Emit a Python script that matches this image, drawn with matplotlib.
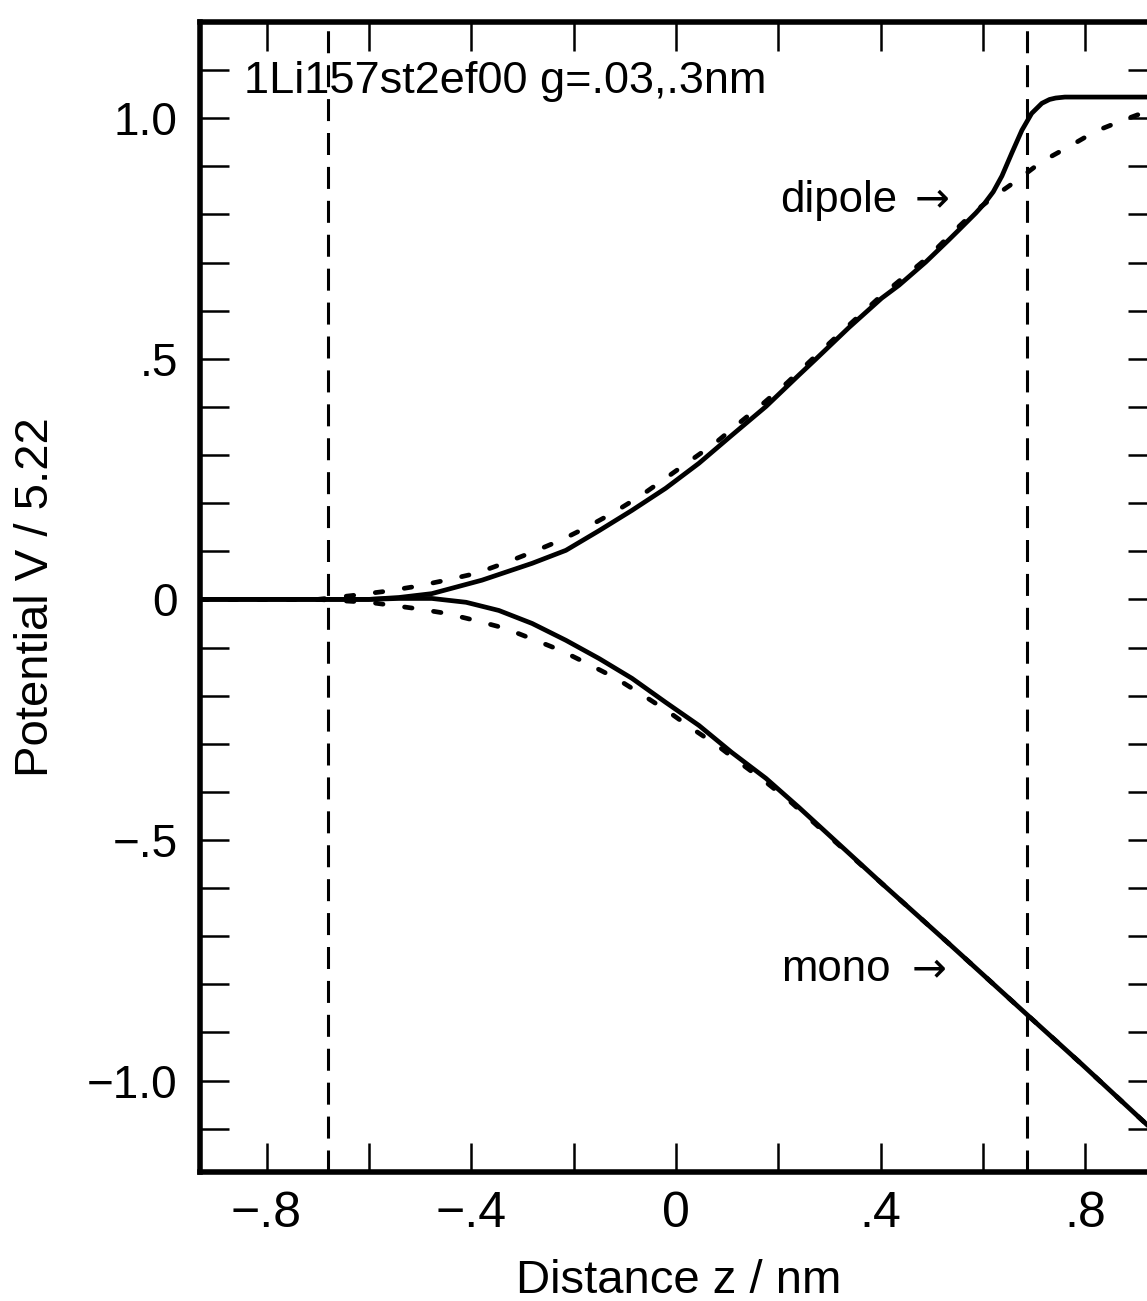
import matplotlib
matplotlib.use("Agg")
import matplotlib.pyplot as plt
import numpy as np
from matplotlib.ticker import FixedLocator, FixedFormatter

# ---- data ----
dip_solid_x = [-0.93, -0.60, -0.541, -0.477, -0.379, -0.281, -0.215, -0.150, -0.086, -0.020,
               0.045, 0.109, 0.176, 0.240, 0.273, 0.338, 0.402, 0.436, 0.488, 0.533, 0.553,
               0.586, 0.603, 0.620, 0.637, 0.656, 0.676, 0.695, 0.715, 0.730, 0.742, 0.760,
               0.793, 0.94]
dip_solid_y = [0.0, 0.0, 0.004, 0.012, 0.040, 0.075, 0.102, 0.143, 0.185, 0.231,
               0.283, 0.341, 0.401, 0.466, 0.499, 0.565, 0.626, 0.653, 0.701, 0.747, 0.768,
               0.803, 0.823, 0.847, 0.880, 0.927, 0.975, 1.010, 1.031, 1.039, 1.042, 1.044,
               1.044, 1.044]

dip_dash_x = [-0.93, -0.70, -0.633, -0.566, -0.508, -0.449, -0.391, -0.336, -0.281, -0.225,
              -0.174, -0.121, -0.068, -0.020, 0.029, 0.078, 0.123, 0.168, 0.217, 0.273,
              0.338, 0.402, 0.488, 0.553, 0.586, 0.625, 0.664, 0.715, 0.768, 0.820, 0.879, 0.94]
dip_dash_y = [0.0, 0.0, 0.008, 0.017, 0.027, 0.040, 0.054, 0.075, 0.098, 0.123,
              0.150, 0.181, 0.216, 0.252, 0.289, 0.326, 0.366, 0.405, 0.450, 0.506,
              0.570, 0.632, 0.707, 0.775, 0.808, 0.840, 0.869, 0.910, 0.941, 0.973, 0.998, 1.022]

mono_solid_x = [-0.93, -0.60, -0.541, -0.477, -0.410, -0.346, -0.281, -0.215, -0.150, -0.086,
                -0.020, 0.045, 0.109, 0.176, 0.240, 0.402, 0.533, 0.684, 0.793, 0.94]
mono_solid_y = [0.0, 0.0, 0.002, 0.002, -0.006, -0.023, -0.050, -0.085, -0.123, -0.164,
                -0.214, -0.262, -0.318, -0.372, -0.432, -0.590, -0.715, -0.861, -0.966, -1.111]

mono_dash_x = [-0.93, -0.70, -0.600, -0.508, -0.449, -0.391, -0.334, -0.279, -0.225, -0.170,
               -0.117, -0.066, -0.018, 0.031, 0.080, 0.127, 0.176, 0.221, 0.260, 0.402,
               0.533, 0.684, 0.793, 0.94]
mono_dash_y = [0.0, 0.0, -0.006, -0.019, -0.029, -0.044, -0.060, -0.083, -0.106, -0.135,
               -0.164, -0.198, -0.231, -0.268, -0.303, -0.341, -0.380, -0.418, -0.455, -0.590,
               -0.715, -0.861, -0.966, -1.111]

boundaries = [-0.68, 0.685]

xticks = [-0.8, -0.6, -0.4, -0.2, 0.0, 0.2, 0.4, 0.6, 0.8]
xticklabels = ["\u2212.8", "", "\u2212.4", "", "0", "", ".4", "", ".8"]
yticks = [-1.1, -1.0, -0.9, -0.8, -0.7, -0.6, -0.5, -0.4, -0.3, -0.2, -0.1, 0.0,
          0.1, 0.2, 0.3, 0.4, 0.5, 0.6, 0.7, 0.8, 0.9, 1.0, 1.1]
yticklabels = ["", "\u22121.0", "", "", "", "", "\u2212.5", "", "", "", "", "0",
               "", "", "", "", ".5", "", "", "", "", "1.0", ""]

title_text = "1Li157st2ef00 g=.03,.3nm"
xlabel_text = "Distance z / nm"
ylabel_text = "Potential V / 5.22"
curve_labels = ["dipole", "mono"]

# ---- figure ----
NARROW = ["Liberation Sans Narrow", "Liberation Sans", "DejaVu Sans"]
REG = ["Liberation Sans", "DejaVu Sans"]

fig = plt.figure(figsize=(11.47, 13.01), dpi=100)
ax = fig.add_axes([200 / 1147, 129 / 1301, 957 / 1147, 1150 / 1301])
ax.set_xlim(-0.93, 0.94)
ax.set_ylim(-1.19, 1.2)

for b in boundaries:
    ax.axvline(b, color="black", lw=2.2, linestyle=(0, (7.2, 3.9)))

ax.plot(dip_solid_x, dip_solid_y, color="black", lw=3.4, solid_capstyle="round",
        solid_joinstyle="round")
ax.plot(mono_solid_x, mono_solid_y, color="black", lw=3.4, solid_capstyle="round",
        solid_joinstyle="round")
ax.plot(dip_dash_x, dip_dash_y, color="black", lw=3.4, linestyle=(0, (1.6, 4.6)),
        dash_capstyle="round")
ax.plot(mono_dash_x, mono_dash_y, color="black", lw=3.4, linestyle=(0, (1.6, 4.6)),
        dash_capstyle="round")

for s in ax.spines.values():
    s.set_linewidth(4.0)

ax.xaxis.set_major_locator(FixedLocator(xticks))
ax.xaxis.set_major_formatter(FixedFormatter(xticklabels))
ax.yaxis.set_major_locator(FixedLocator(yticks))
ax.yaxis.set_major_formatter(FixedFormatter(yticklabels))
ax.tick_params(axis="both", which="major", direction="in", length=21, width=1.8,
               top=True, right=True, color="black")
ax.tick_params(axis="x", pad=14)
ax.tick_params(axis="y", pad=16)

for lab in ax.get_xticklabels():
    lab.set_fontfamily(NARROW)
    lab.set_fontsize(36)
for lab in ax.get_yticklabels():
    lab.set_fontfamily(REG)
    lab.set_fontsize(33)

ax.set_xlabel(xlabel_text, fontsize=34, family=NARROW)
ax.set_ylabel(ylabel_text, fontsize=34, family=NARROW)
ax.xaxis.set_label_coords(0.5, (1172 - 1259) / 1150)
ax.yaxis.set_label_coords((58 - 200) / 957, 0.5)

ax.text(-0.845, 1.052, title_text, fontsize=32.5, family=REG, va="baseline", ha="left")
ax.text(0.203, 0.806, curve_labels[0], fontsize=31.5, family=REG, va="baseline", ha="left")
ax.text(0.466, 0.806, "\u2192", fontsize=30, family=["DejaVu Sans"], va="baseline", ha="left")
ax.text(0.205, -0.793, curve_labels[1], fontsize=31.5, family=REG, va="baseline", ha="left")
ax.text(0.460, -0.793, "\u2192", fontsize=30, family=["DejaVu Sans"], va="baseline", ha="left")

fig.savefig("out.png", dpi=100)
